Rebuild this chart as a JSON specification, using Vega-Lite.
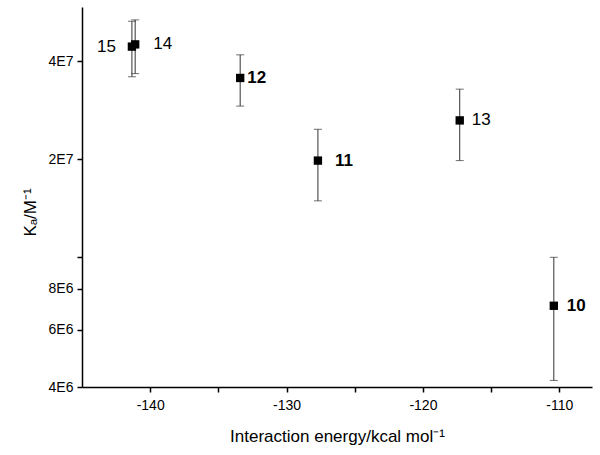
{
  "$schema": "https://vega.github.io/schema/vega-lite/v6.json",
  "autosize": "none",
  "width": 510,
  "height": 380,
  "padding": {"left": 82, "top": 7, "right": 8, "bottom": 68},
  "background": "white",
  "config": {
    "view": {"stroke": null},
    "font": "Liberation Sans",
    "axis": {
      "grid": false,
      "domainColor": "black",
      "domainWidth": 1.5,
      "tickColor": "black",
      "tickWidth": 1.5,
      "tickSize": 5,
      "labelColor": "black",
      "labelFont": "Liberation Sans",
      "labelFontSize": 14,
      "titleFont": "Liberation Sans",
      "titleFontSize": 17,
      "titleFontWeight": "normal",
      "titleColor": "black"
    }
  },
  "data": {
    "values": [
      {"label": "10", "energy": -110.4, "ka": 7100000, "lo": 4190000, "hi": 10000000},
      {"label": "11", "energy": -127.7, "ka": 19800000, "lo": 14900000, "hi": 24700000},
      {"label": "12", "energy": -133.4, "ka": 35500000, "lo": 29100000, "hi": 41800000},
      {"label": "13", "energy": -117.3, "ka": 26300000, "lo": 19800000, "hi": 32800000},
      {"label": "14", "energy": -141.1, "ka": 45000000, "lo": 36600000, "hi": 53500000},
      {"label": "15", "energy": -141.34, "ka": 44300000, "lo": 35800000, "hi": 53000000}
    ]
  },
  "encoding": {
    "x": {
      "field": "energy",
      "type": "quantitative",
      "scale": {"domain": [-145, -107.6], "nice": false, "zero": false},
      "axis": {
        "title": "Interaction energy/kcal mol⁻¹",
        "values": [-140, -135, -130, -125, -120, -115, -110],
        "labelExpr": "datum.value % 10 == 0 ? '' + datum.value : ''",
        "labelPadding": 6,
        "titlePadding": 16
      }
    }
  },
  "layer": [
    {
      "mark": {"type": "rule", "color": "#333333", "strokeWidth": 1},
      "encoding": {
        "y": {
          "field": "lo",
          "type": "quantitative",
          "scale": {"type": "log", "domain": [4000000, 58600000], "nice": false},
          "axis": {
            "title": "Kₐ/M⁻¹",
            "values": [4000000, 6000000, 8000000, 10000000, 20000000, 40000000],
            "labelExpr": "datum.value == 1e7 ? '' : (datum.value >= 1e7 ? (datum.value/1e7) + 'E7' : (datum.value/1e6) + 'E6')",
            "labelPadding": 4,
            "titlePadding": 9,
            "titleY": 205
          }
        },
        "y2": {"field": "hi"}
      }
    },
    {
      "mark": {"type": "tick", "orient": "horizontal", "color": "#333333", "size": 8, "thickness": 1},
      "encoding": {"y": {"field": "lo", "type": "quantitative"}}
    },
    {
      "mark": {"type": "tick", "orient": "horizontal", "color": "#333333", "size": 8, "thickness": 1},
      "encoding": {"y": {"field": "hi", "type": "quantitative"}}
    },
    {
      "mark": {"type": "point", "shape": "square", "filled": true, "color": "black", "size": 70, "opacity": 1},
      "encoding": {"y": {"field": "ka", "type": "quantitative"}}
    },
    {
      "transform": [{"filter": "datum.label == '12'"}],
      "mark": {"type": "text", "align": "left", "baseline": "middle", "dx": 7, "fontSize": 17, "fontWeight": "bold", "color": "black"},
      "encoding": {"y": {"field": "ka", "type": "quantitative"}, "text": {"field": "label"}}
    },
    {
      "transform": [{"filter": "datum.label == '10'"}],
      "mark": {"type": "text", "align": "left", "baseline": "middle", "dx": 13, "fontSize": 17, "fontWeight": "bold", "color": "black"},
      "encoding": {"y": {"field": "ka", "type": "quantitative"}, "text": {"field": "label"}}
    },
    {
      "transform": [{"filter": "datum.label == '11'"}],
      "mark": {"type": "text", "align": "left", "baseline": "middle", "dx": 17, "fontSize": 17, "fontWeight": "bold", "color": "black"},
      "encoding": {"y": {"field": "ka", "type": "quantitative"}, "text": {"field": "label"}}
    },
    {
      "transform": [{"filter": "datum.label == '13'"}],
      "mark": {"type": "text", "align": "left", "baseline": "middle", "dx": 12, "fontSize": 17, "color": "black"},
      "encoding": {"y": {"field": "ka", "type": "quantitative"}, "text": {"field": "label"}}
    },
    {
      "transform": [{"filter": "datum.label == '14'"}],
      "mark": {"type": "text", "align": "left", "baseline": "middle", "dx": 18, "fontSize": 17, "color": "black"},
      "encoding": {"y": {"field": "ka", "type": "quantitative"}, "text": {"field": "label"}}
    },
    {
      "transform": [{"filter": "datum.label == '15'"}],
      "mark": {"type": "text", "align": "right", "baseline": "middle", "dx": -16, "fontSize": 17, "color": "black"},
      "encoding": {"y": {"field": "ka", "type": "quantitative"}, "text": {"field": "label"}}
    }
  ]
}
